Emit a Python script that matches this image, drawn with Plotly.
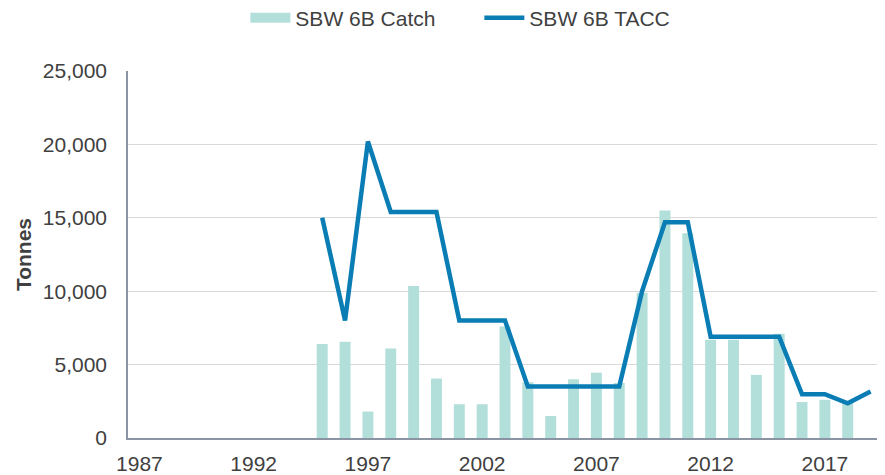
import plotly.graph_objects as go

years = list(range(1995, 2020))
catch = [6400, 6550, 1800, 6100, 10350, 4050, 2300, 2300, 7600, 3800, 1500, 4000,
         4450, 3750, 9900, 15500, 13950, 6700, 6700, 4300, 7100, 2450, 2600, 2500, None]
tacc = [15000, 8000, 20200, 15400, 15400, 15400, 8000, 8000, 8000, 3500, 3500, 3500,
        3500, 3500, 10000, 14700, 14700, 6900, 6900, 6900, 6900, 2980, 2980, 2360, 3160]
tick_years = [1987, 1992, 1997, 2002, 2007, 2012, 2017]
y_ticks = [0, 5000, 10000, 15000, 20000, 25000]

FONT = "Liberation Sans, Arial, sans-serif"
TXT = "#404040"
BAR_C = "#b3dfdb"
LINE_C = "#0a7db5"
FS = 21

fig = go.Figure()
fig.add_trace(go.Bar(x=years, y=catch, name="SBW 6B Catch", showlegend=False,
                     marker=dict(color=BAR_C, line=dict(width=0))))
# legend swatch for the bars (wide rectangle like the reference)
fig.add_trace(go.Scatter(x=[None], y=[None], name="SBW 6B Catch", mode="lines",
                         line=dict(color=BAR_C, width=12)))
fig.add_trace(go.Scatter(x=years, y=tacc, name="SBW 6B TACC", mode="lines",
                         line=dict(color=LINE_C, width=4.5)))

fig.update_layout(
    width=877, height=467,
    margin=dict(l=120, r=3, t=63, b=37, autoexpand=False),
    plot_bgcolor="white", paper_bgcolor="white",
    font=dict(family=FONT, size=FS, color=TXT),
    bargap=0.52,
    showlegend=True,
    legend=dict(orientation="h", xref="paper", yref="paper",
                x=0.466, xanchor="center", y=1.144, yanchor="middle",
                font=dict(size=FS, color=TXT), itemwidth=40,
                entrywidth=179, entrywidthmode="pixels",
                traceorder="normal"),
    xaxis=dict(range=[1986.5, 2019.5], tickmode="array", tickvals=tick_years,
               ticktext=[str(t) for t in tick_years], automargin=False,
               tickangle=0,
               showgrid=False, showline=True, linecolor="#8a94a3", linewidth=1.5,
               ticks="", ticklabelstandoff=6, zeroline=False),
    yaxis=dict(range=[0, 25000], tickmode="array", tickvals=y_ticks,
               ticktext=[f"{v:,}" for v in y_ticks], automargin=False,
               showgrid=True, gridcolor="#d9d9d9", gridwidth=1,
               showline=True, linecolor="#8a94a3", linewidth=1.5,
               ticks="", ticklabelstandoff=15, zeroline=False,
               title=dict(text="<b>Tonnes</b>", standoff=5,
                          font=dict(size=FS, color=TXT))),
)

fig.write_html("out.html")
